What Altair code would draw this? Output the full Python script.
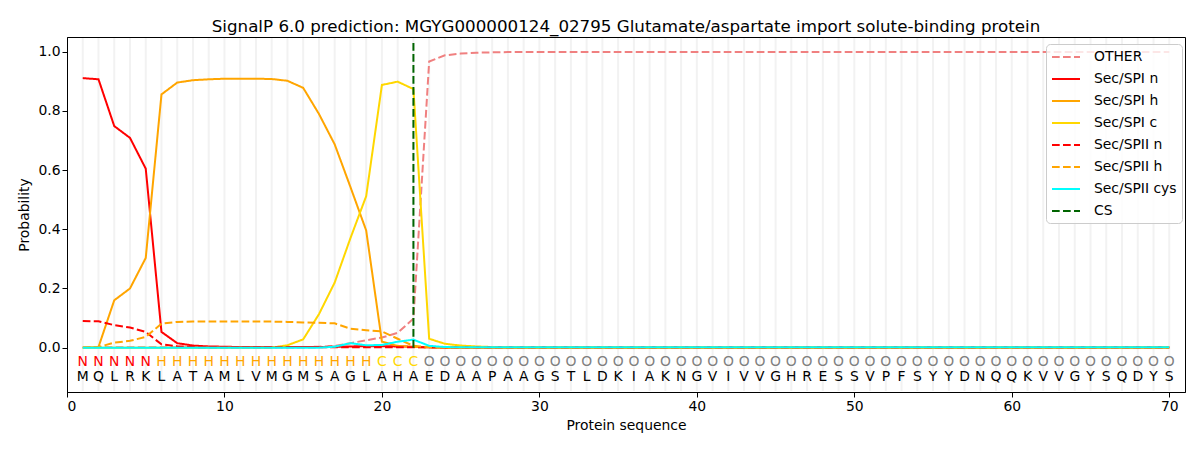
import altair as alt
import pandas as pd

# ---------------- data ----------------
sequence = list("MQLRKLATAMLVMGMSAGLAHAEDAAPAAGSTLDKIAKNGVIVVGHRESSVPFSYYDNQQKVVGYSQDYS")
states = list("NNNNN" + "H" * 14 + "CCC" + "O" * 48)

series_names = ["OTHER", "Sec/SPI n", "Sec/SPI h", "Sec/SPI c",
                "Sec/SPII n", "Sec/SPII h", "Sec/SPII cys", "CS"]

other = [0.001] * 14 + [0.002, 0.003, 0.006, 0.015, 0.025, 0.034, 0.05, 0.098,
                        0.967, 0.988, 0.994, 0.997, 0.998] + [0.999] * 43
spi_n = [0.911, 0.907, 0.749, 0.709, 0.605, 0.053, 0.015, 0.007, 0.004, 0.003,
         0.002, 0.002, 0.002, 0.002, 0.002, 0.002, 0.003, 0.004, 0.005, 0.005,
         0.004, 0.003, 0.001] + [0.0] * 47
spi_h = [0.0, 0.002, 0.16, 0.2, 0.303, 0.856, 0.896, 0.904, 0.907, 0.909,
         0.909, 0.909, 0.908, 0.902, 0.878, 0.79, 0.687, 0.543, 0.396, 0.02,
         0.006, 0.002, 0.001] + [0.0] * 47
spi_c = [0.0] * 13 + [0.008, 0.028, 0.113, 0.22, 0.37, 0.512, 0.888, 0.899,
                      0.874, 0.03, 0.013, 0.007, 0.004, 0.002] + [0.001] * 43
spii_n = [0.09, 0.089, 0.076, 0.068, 0.053, 0.011, 0.005, 0.002] + [0.001] * 62
spii_h = [0.0, 0.002, 0.017, 0.023, 0.036, 0.081, 0.087, 0.088, 0.088, 0.088,
          0.088, 0.088, 0.088, 0.087, 0.085, 0.084, 0.082, 0.064, 0.059, 0.055,
          0.03, 0.006, 0.002] + [0.001] * 47
spii_cys = [0.0] * 16 + [0.003, 0.015, 0.008, 0.009, 0.02, 0.027, 0.006,
                         0.002] + [0.001] * 46

cs_position = 22
cs_span = [0.0, 1.04]

series_colors = ["#F08080", "red", "orange", "gold", "red", "orange", "cyan", "darkgreen"]
dash_solid = [1, 0]
dash_dashed = [7.7, 3.3]
series_dashes = [dash_dashed, dash_solid, dash_solid, dash_solid,
                 dash_dashed, dash_dashed, dash_solid, dash_dashed]

state_colors = {"N": "red", "H": "orange", "C": "gold", "O": "gray"}

# ---------------- tables ----------------
positions = list(range(1, len(sequence) + 1))
values = [other, spi_n, spi_h, spi_c, spii_n, spii_h, spii_cys]
rows = []
for name, vals in zip(series_names[:-1], values):
    for p, v in zip(positions, vals):
        rows.append({"pos": p, "prob": v, "series": name})
for v in cs_span:
    rows.append({"pos": cs_position, "prob": v, "series": "CS"})
lines_df = pd.DataFrame(rows)

seq_df = pd.DataFrame({
    "pos": positions,
    "aa": sequence,
    "state": states,
})

FONT = "DejaVu Sans"

x_enc = alt.X("pos:Q", scale=alt.Scale(domain=[0, 71], nice=False, zero=False),
              axis=alt.Axis(values=[0, 10, 20, 30, 40, 50, 60, 70], title="Protein sequence",
                            format="d", titlePadding=6))
y_scale = alt.Scale(domain=[-0.15, 1.05], nice=False, zero=False)

legend = alt.Legend(title=None, orient="none", legendX=979, legendY=7,
                    fillColor="rgba(255,255,255,0.8)", strokeColor="#cccccc",
                    cornerRadius=4, padding=5, rowPadding=7,
                    symbolType="M-2,0H2", symbolSize=196, symbolStrokeWidth=2,
                    symbolOffset=7, labelOffset=20,
                    symbolFillColor="transparent",
                    labelFont=FONT, labelFontSize=13.9, labelColor="black")

grid = alt.Chart(seq_df).mark_rule(color="#f2f2f2", strokeWidth=2).encode(
    x=x_enc, y=alt.value(1), y2=alt.value(354))

lines = alt.Chart(lines_df).mark_line(strokeWidth=2, clip=True).encode(
    x=x_enc,
    y=alt.Y("prob:Q", scale=y_scale,
            axis=alt.Axis(values=[0, 0.2, 0.4, 0.6, 0.8, 1.0], format=".1f",
                          title="Probability", titlePadding=6)),
    color=alt.Color("series:N", scale=alt.Scale(domain=series_names, range=series_colors),
                    legend=legend, sort=series_names),
    strokeDash=alt.StrokeDash("series:N", scale=alt.Scale(domain=series_names, range=series_dashes),
                              legend=legend, sort=series_names),
)

state_layers = [
    alt.Chart(seq_df).transform_filter(alt.datum.state == s).mark_text(
        font=FONT, fontSize=13.9, baseline="middle", color=c).encode(
        x=x_enc, y=alt.datum(-0.047), text="state:N")
    for s, c in state_colors.items()
]

aa_text = alt.Chart(seq_df).mark_text(font=FONT, fontSize=13.9, baseline="middle",
                                      color="black").encode(
    x=x_enc,
    y=alt.datum(-0.098),
    text="aa:N",
)

chart = alt.layer(grid, lines, *state_layers, aa_text).properties(
    width=1118, height=355,
    autosize=alt.AutoSizeParams(type="none"),
    padding={"left": 59, "top": 29, "right": 7, "bottom": 50},
    title=alt.Title("SignalP 6.0 prediction: MGYG000000124_02795 Glutamate/aspartate import solute-binding protein",
                    font=FONT, fontSize=16.7, fontWeight="normal", color="black",
                    anchor="middle", offset=1),
).configure_view(stroke="black", strokeWidth=1).configure_axis(
    labelFont=FONT, labelFontSize=13.9, labelColor="black",
    titleFont=FONT, titleFontSize=13.9, titleFontWeight="normal", titleColor="black",
    tickColor="black", domainColor="black", tickSize=5, grid=False,
)

chart.save("out.html", embed_options={"renderer": "svg", "actions": False})
